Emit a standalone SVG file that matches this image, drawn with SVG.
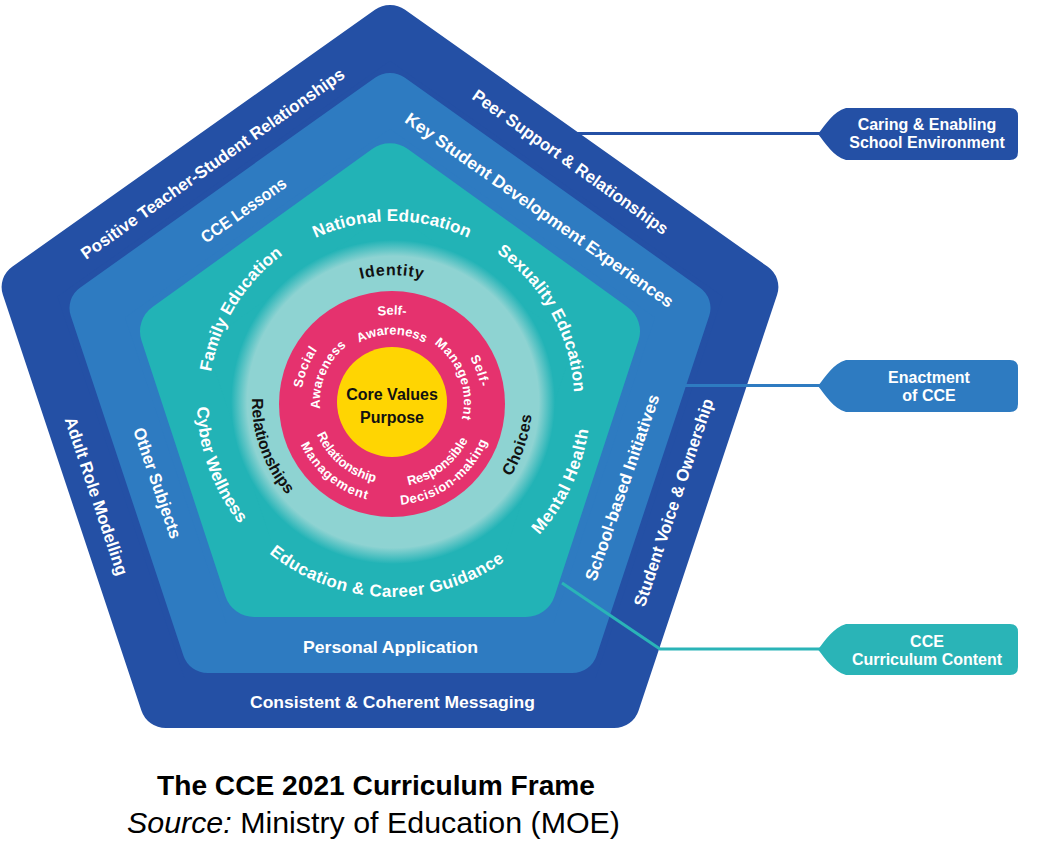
<svg xmlns="http://www.w3.org/2000/svg" width="1047" height="865" viewBox="0 0 1047 865">
<style>
.w{fill:#fff;font-family:"Liberation Sans",Arial,sans-serif;font-weight:bold}
.o{font-size:17px}
.t{font-size:17px}
.p{font-size:13px}
.k{fill:#111;font-family:"Liberation Sans",Arial,sans-serif;font-weight:bold;font-size:16px}
.c{font-size:16px;text-anchor:middle}
.cap{fill:#000;font-family:"Liberation Sans",Arial,sans-serif;text-anchor:middle}
</style>
<defs>
<radialGradient id="glow" cx="393" cy="402" r="162" gradientUnits="userSpaceOnUse">
<stop offset="0" stop-color="#8ED3D2"/>
<stop offset="0.9" stop-color="#8ED3D2"/>
<stop offset="1" stop-color="#22B3B6"/>
</radialGradient>
<path id="aIdentity" d="M265.5,390.9 A127,127 0 0 1 518.5,390.9"/>
<path id="aNational" d="M211.7,386.2 A181,181 0 0 1 572.3,386.2"/>
<path id="aSelfTop" d="M305.3,394.4 A87,87 0 0 1 478.7,394.4"/>
<path id="aAwTop" d="M324.3,396.1 A68,68 0 0 1 459.7,396.1"/>
<path id="aSocial" d="M350.7,483.1 A91,91 0 0 1 418.6,315.0"/>
<path id="aAwLeft" d="M358.2,465.6 A72,72 0 0 1 414.2,333.5"/>
<path id="aSelfRight" d="M369.5,314.9 A90,90 0 0 1 429.3,483.9"/>
<path id="aMgmtRight" d="M373.4,332.5 A72,72 0 0 1 422.4,467.3"/>
<path id="aRel" d="M324.3,355.8 A82,82 0 0 0 450.7,459.3"/>
<path id="aMgmtLow" d="M308.8,344.8 A101,101 0 0 0 464.0,472.8"/>
<path id="aResp" d="M329.0,459.1 A85,85 0 0 0 463.9,356.7"/>
<path id="aDec" d="M314.6,470.0 A103,103 0 0 0 480.0,348.5"/>
<path id="aFamily" d="M283.1,549.1 A183,183 0 0 1 473.7,238.2"/>
<path id="aSex" d="M318.0,235.7 A182,182 0 0 1 493.8,552.9"/>
<path id="aCyber" d="M309.6,225.3 A195,195 0 0 0 442.5,590.4"/>
<path id="aMental" d="M324.3,588.1 A198,198 0 0 0 491.0,230.5"/>
<path id="aECG" d="M197.3,412.9 A195,195 0 0 0 585.6,425.1"/>
<path id="aRels" d="M332.8,275.1 A140,140 0 0 0 428.2,537.2"/>
<path id="aChoices" d="M359.1,538.1 A140,140 0 0 0 448.0,273.7"/>
</defs>
<rect width="1047" height="865" fill="#fff"/>

<g id="layer-environment">
<polygon transform="translate(390,402) scale(1.025,1)" points="0,-372.1 353.9,-115 218.7,301 -218.7,301 -353.9,-115" fill="#2450A5" stroke="#2450A5" stroke-width="50" stroke-linejoin="round"/>
<text class="w o" transform="translate(212.5,163.5) rotate(-35.2)" x="0" y="6" text-anchor="middle" textLength="318" lengthAdjust="spacingAndGlyphs">Positive Teacher-Student Relationships</text>
<text class="w o" transform="translate(570.5,162) rotate(35.5)" x="0" y="6" text-anchor="middle" textLength="236" lengthAdjust="spacingAndGlyphs">Peer Support &amp; Relationships</text>
<text class="w o" transform="translate(96.5,496) rotate(71.5)" x="0" y="6" text-anchor="middle" textLength="166" lengthAdjust="spacingAndGlyphs">Adult Role Modelling</text>
<text class="w o" transform="translate(673.5,502.5) rotate(-71.5)" x="0" y="6" text-anchor="middle" textLength="218" lengthAdjust="spacingAndGlyphs">Student Voice &amp; Ownership</text>
<text class="w o" x="392.5" y="708" text-anchor="middle" textLength="285" lengthAdjust="spacingAndGlyphs">Consistent &amp; Coherent Messaging</text>
</g>

<g id="layer-enactment">
<polygon transform="translate(390,402) scale(1.02,1)" points="0,-304.1 289.2,-94 178.7,246 -178.7,246 -289.2,-94" fill="#2E7BC1" stroke="#2E7BC1" stroke-width="50" stroke-linejoin="round"/>
<text class="w o" transform="translate(243.5,210) rotate(-35.2)" x="0" y="6" text-anchor="middle" textLength="100" lengthAdjust="spacingAndGlyphs">CCE Lessons</text>
<text class="w o" transform="translate(539.5,210) rotate(35.2)" x="0" y="6" text-anchor="middle" textLength="324" lengthAdjust="spacingAndGlyphs">Key Student Development Experiences</text>
<text class="w o" transform="translate(157.5,483) rotate(71)" x="0" y="6" text-anchor="middle" textLength="116" lengthAdjust="spacingAndGlyphs">Other Subjects</text>
<text class="w o" transform="translate(622,487.5) rotate(-71)" x="0" y="6" text-anchor="middle" textLength="196" lengthAdjust="spacingAndGlyphs">School-based Initiatives</text>
<text class="w o" x="390.5" y="653" text-anchor="middle" textLength="175" lengthAdjust="spacingAndGlyphs">Personal Application</text>
</g>

<g id="layer-content">
<polygon transform="translate(390,402) scale(1.01,1)" points="0,-228.7 217.5,-70.7 134.4,185 -134.4,185 -217.5,-70.7" fill="#22B3B6" stroke="#22B3B6" stroke-width="60" stroke-linejoin="round"/>
<text class="w t" text-anchor="middle" letter-spacing="0.2"><textPath href="#aNational" startOffset="50%">National Education</textPath></text>
<text class="w t" text-anchor="middle"><textPath href="#aFamily" startOffset="50%">Family Education</textPath></text>
<text class="w t" text-anchor="middle" letter-spacing="0.2"><textPath href="#aSex" startOffset="50%">Sexuality Education</textPath></text>
<text class="w t" text-anchor="middle"><textPath href="#aCyber" startOffset="50%">Cyber Wellness</textPath></text>
<text class="w t" text-anchor="middle" letter-spacing="0.6"><textPath href="#aMental" startOffset="50%">Mental Health</textPath></text>
<text class="w t" text-anchor="middle" letter-spacing="0.5"><textPath href="#aECG" startOffset="50%">Education &amp; Career Guidance</textPath></text>
</g>

<g id="ring-outcomes">
<circle cx="393" cy="402" r="162" fill="url(#glow)"/>
<text class="k" text-anchor="middle" letter-spacing="0.8"><textPath href="#aIdentity" startOffset="50%">Identity</textPath></text>
<text class="k" text-anchor="middle"><textPath href="#aRels" startOffset="50%">Relationships</textPath></text>
<text class="k" text-anchor="middle" letter-spacing="0.6"><textPath href="#aChoices" startOffset="50%">Choices</textPath></text>
</g>

<g id="ring-competencies">
<circle cx="392" cy="404" r="113" fill="#E5326E"/>
<text class="w p" text-anchor="middle"><textPath href="#aSelfTop" startOffset="50%">Self-</textPath></text>
<text class="w p" text-anchor="middle"><textPath href="#aAwTop" startOffset="50%">Awareness</textPath></text>
<text class="w p" text-anchor="middle" letter-spacing="0.6"><textPath href="#aSocial" startOffset="50%">Social</textPath></text>
<text class="w p" text-anchor="middle" letter-spacing="0.3"><textPath href="#aAwLeft" startOffset="50%">Awareness</textPath></text>
<text class="w p" text-anchor="middle" letter-spacing="0.8"><textPath href="#aSelfRight" startOffset="50%">Self-</textPath></text>
<text class="w p" text-anchor="middle" letter-spacing="0.6"><textPath href="#aMgmtRight" startOffset="50%">Management</textPath></text>
<text class="w p" text-anchor="middle"><textPath href="#aRel" startOffset="50%">Relationship</textPath></text>
<text class="w p" text-anchor="middle" letter-spacing="1"><textPath href="#aMgmtLow" startOffset="50%">Management</textPath></text>
<text class="w p" text-anchor="middle"><textPath href="#aResp" startOffset="50%">Responsible</textPath></text>
<text class="w p" text-anchor="middle" letter-spacing="0.6"><textPath href="#aDec" startOffset="50%">Decision-making</textPath></text>
</g>

<g id="core">
<circle cx="392" cy="402" r="55" fill="#FFD502"/>
<text class="k" x="392" y="400" text-anchor="middle">Core Values</text>
<text class="k" x="392" y="423" text-anchor="middle">Purpose</text>
</g>

<g id="connectors" fill="none" stroke-width="3">
<line x1="560" y1="133.5" x2="822" y2="133.5" stroke="#2450A5"/>
<line x1="684" y1="385.5" x2="822" y2="385.5" stroke="#2E7BC1"/>
<polyline points="562,583 660,649 822,649" stroke="#2AB4B7" stroke-linejoin="round"/>
</g>

<g id="callout-environment">
<path d="M818,134 C826,124 833,112 846,108 L1010,108 Q1018,108 1018,116 L1018,152 Q1018,160 1010,160 L846,160 C833,156 826,144 818,134 Z" fill="#2450A5"/>
<text class="w c" x="927" y="130">Caring &amp; Enabling</text>
<text class="w c" x="927" y="147.5">School Environment</text>
</g>
<g id="callout-enactment">
<path d="M818,386 C826,376 833,364 846,360 L1010,360 Q1018,360 1018,368 L1018,404 Q1018,412 1010,412 L846,412 C833,408 826,396 818,386 Z" fill="#2E7BC1"/>
<text class="w c" x="929" y="383">Enactment</text>
<text class="w c" x="929" y="401">of CCE</text>
</g>
<g id="callout-content">
<path d="M818,649.5 C826,639.5 833,628 846,624 L1010,624 Q1018,624 1018,632 L1018,667 Q1018,675 1010,675 L846,675 C833,671 826,659.5 818,649.5 Z" fill="#2AB4B7"/>
<text class="w c" x="927" y="647">CCE</text>
<text class="w c" x="927" y="665">Curriculum Content</text>
</g>

<g id="caption">
<text class="cap" x="376" y="795" font-size="28" font-weight="bold" textLength="438" lengthAdjust="spacingAndGlyphs">The CCE 2021 Curriculum Frame</text>
<text class="cap" x="373.5" y="833" font-size="30" textLength="493" lengthAdjust="spacingAndGlyphs"><tspan font-style="italic">Source:</tspan> Ministry of Education (MOE)</text>
</g>
</svg>
